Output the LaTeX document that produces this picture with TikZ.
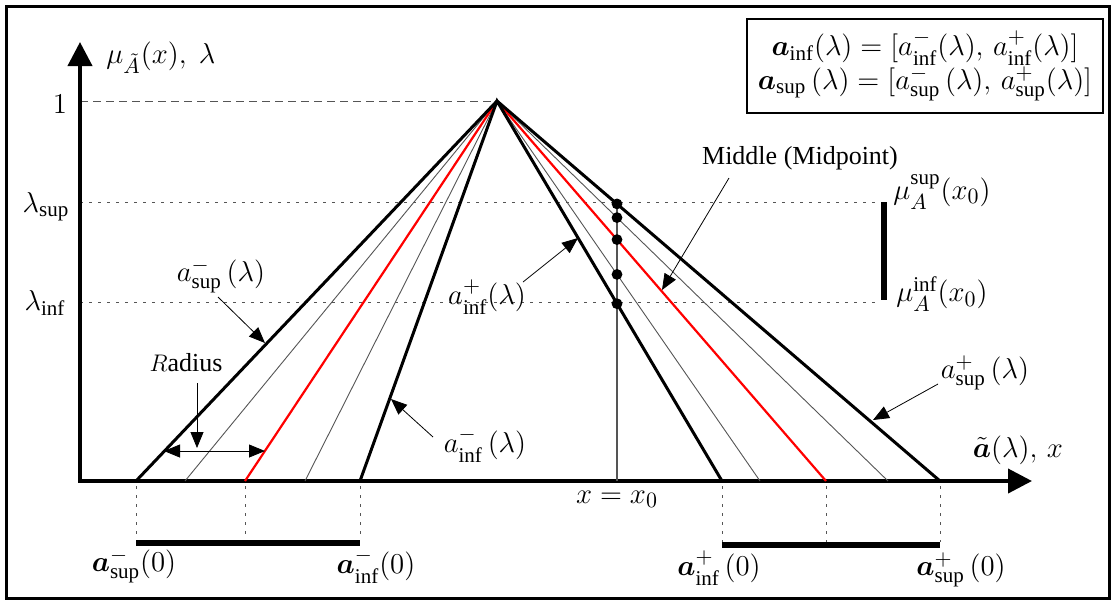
\documentclass[tikz,border=0pt]{standalone}
\usepackage{fontspec}
\setmainfont{Liberation Serif}
\usepackage{amsmath,amssymb}
\usetikzlibrary{arrows.meta,calc,positioning}
\definecolor{fzRed}{HTML}{FF0000}
\definecolor{fzGrey}{HTML}{555555}
\tikzset{
  lbl/.style={font=\fontsize{13}{15}\selectfont, inner sep=1pt},
  mlbl/.style={font=\fontsize{15}{17}\selectfont, inner sep=1pt},
  bound/.style={line width=1.5pt},
  fanln/.style={line width=0.45pt, fzGrey},
  midln/.style={line width=1.1pt, fzRed},
  pointer/.style={line width=0.4pt, -{Triangle[length=8pt,width=6.5pt]}},
  levelln/.style={line width=0.5pt, fzGrey, dash pattern=on 1.5pt off 3pt},
  axisln/.style={line width=2pt, -{Triangle[length=12pt,width=12pt]}},
  barln/.style={line width=3pt},
}
\newcommand{\lo}{\mathrm{inf}}
\newcommand{\hi}{\mathrm{sup}}

\begin{document}
\begin{tikzpicture}[x=0.5pt,y=-0.5pt]
\useasboundingbox (0,0) rectangle (1115,602);
\draw[line width=1.5pt] (6,6) rectangle (1109,598);

% points of the fan
\coordinate (peak) at (497,101);
\coordinate (supL) at (136,481);
\coordinate (thL1) at (185,481);
\coordinate (midL) at (245,481);
\coordinate (thL2) at (305,481);
\coordinate (infL) at (360,481);
\coordinate (infR) at (722,481);
\coordinate (thR1) at (760,481);
\coordinate (midR) at (826,481);
\coordinate (thR2) at (888,481);
\coordinate (supR) at (940,481);

% levels
\draw[line width=0.5pt, fzGrey, dash pattern=on 4pt off 2.5pt] (80,101) -- (peak);
\draw[levelln] (80,202) -- (880,202);
\draw[levelln] (80,302) -- (880,302);

% axes
\draw[axisln] (80,482) -- (80,42);
\draw[axisln] (78,481) -- (1032,481);

% vertical at x0
\draw[line width=0.6pt, fzGrey] (617,200) -- (617,481);

% fan of lines
\draw[fanln] (peak) -- (thL1);
\draw[fanln] (peak) -- (thL2);
\draw[fanln] (peak) -- (thR1);
\draw[fanln] (peak) -- (thR2);
\draw[midln] (peak) -- (midL);
\draw[midln] (peak) -- (midR);
\draw[bound] (supL) -- (peak) -- (supR);
\draw[bound] (infL) -- (peak) -- (infR);

% dots on x = x0
\foreach \yy in {203.9,217.6,239.6,274.4,303.7}
  \fill (617,\yy) circle (2.7pt);

% projections on the base
\foreach \xx/\yb in {136/540,245/540,360/540,722/542,826/542,940/542}
  \draw[levelln] (\xx,486) -- (\xx,\yb);
\draw[barln] (136,543) -- (360,543);
\draw[barln] (722,545) -- (940,545);
\draw[barln] (884,202) -- (884,300);

% axis texts
\node[mlbl, anchor=west] (muAx) at (104,58) {$\mu_{\tilde{A}}(x),\ \lambda$};
\node[mlbl] (one) at (60,104) {$1$};
\node[mlbl] (lamSup) at (46,207) {$\lambda_{\hi}$};
\node[mlbl] (lamInf) at (45,303) {$\lambda_{\lo}$};
\node[mlbl] (xAx) at (1018,450) {$\tilde{\boldsymbol{a}}(\lambda),\, x$};
\node[mlbl] (xZero) at (617,499) {$x = x_0$};

% base texts
\node[mlbl] (aSupL0) at (134,566) {$\boldsymbol{a}^{-}_{\hi}(0)$};
\node[mlbl] (aInfL0) at (376,566) {$\boldsymbol{a}^{-}_{\lo}(0)$};
\node[mlbl] (aInfR0) at (719,568) {$\boldsymbol{a}^{+}_{\lo}\,(0)$};
\node[mlbl] (aSupR0) at (961,570) {$\boldsymbol{a}^{+}_{\hi}\,(0)$};

% membership bounds
\node[mlbl] (muSup) at (942,192) {$\mu_{A}^{\hi}(x_0)$};
\node[mlbl] (muInf) at (942,294) {$\mu_{A}^{\lo}(x_0)$};

% legend
\node[mlbl, draw, line width=0.6pt, align=center, inner sep=3pt, minimum width=178pt, minimum height=47pt] (legend) at (925,66)
  {$\boldsymbol{a}_{\lo}(\lambda) = [a^{-}_{\lo}(\lambda),\, a^{+}_{\lo}(\lambda)]$\\[0pt]
   $\boldsymbol{a}_{\hi}\,(\lambda) = [a^{-}_{\hi}\,(\lambda),\, a^{+}_{\hi}(\lambda)]$};

% pointer labels
\node[mlbl] (lSupL) at (221,276) {$a^{-}_{\hi}\,(\lambda)$};
\node[lbl] (lRad) at (186,363) {$R$adius};
\node[mlbl] (lInfL) at (485,445) {$a^{-}_{\lo}\,(\lambda)$};
\node[mlbl] (lInfR) at (487,297) {$a^{+}_{\lo}(\lambda)$};
\node[lbl] (lMid) at (800,158) {Middle (Midpoint)};
\node[mlbl] (lSupR) at (985,373) {$a^{+}_{\hi}\,(\lambda)$};

\coordinate (pSupL) at (218,297);  \coordinate (tSupL) at (265,343);
\coordinate (pRad) at (197,383);   \coordinate (tRad) at (197,448);
\coordinate (rA) at (164,451);     \coordinate (rB) at (265,451);
\coordinate (pInfL) at (433,437);  \coordinate (tInfL) at (391,399);
\coordinate (pInfR) at (523,282);  \coordinate (tInfR) at (578,238);
\coordinate (pMid) at (729,178);   \coordinate (tMid) at (662,290);
\coordinate (pSupR) at (938,384);  \coordinate (tSupR) at (873,420);

\draw[pointer] (pSupL) -- (tSupL);
\draw[pointer] (pRad) -- (tRad);
\draw[pointer, {Triangle[length=8pt,width=6.5pt]}-{Triangle[length=8pt,width=6.5pt]}] (rA) -- (rB);
\draw[pointer] (pInfL) -- (tInfL);
\draw[pointer] (pInfR) -- (tInfR);
\draw[pointer] (pMid) -- (tMid);
\draw[pointer] (pSupR) -- (tSupR);
\end{tikzpicture}
\end{document}
